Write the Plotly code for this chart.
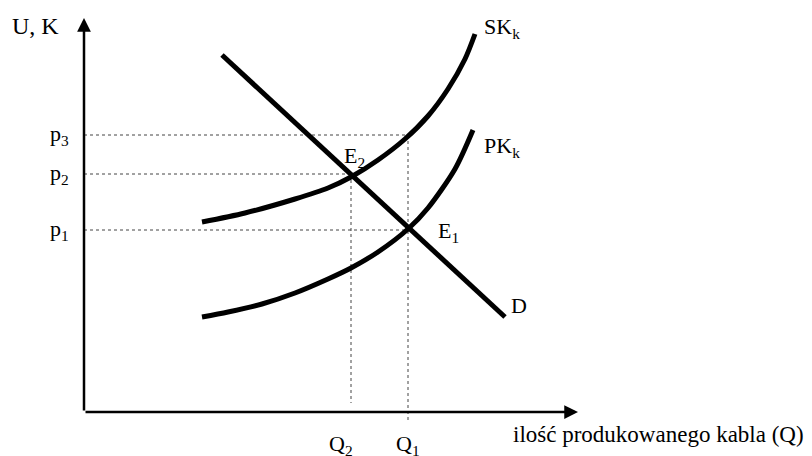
import plotly.graph_objects as go

# equilibrium values (chart units)
q_labels = ["Q<sub>2</sub>", "Q<sub>1</sub>"]
q_values = [26.7, 32.4]
p_labels = ["p<sub>1</sub>", "p<sub>2</sub>", "p<sub>3</sub>"]
p_values = [18.2, 23.8, 27.7]

# demand D
d_x = [13.8, 42.1]
d_y = [35.7, 9.5]

# private cost PK_k
pk_x = [11.8, 14.4, 17.8, 21.1, 24.4, 26.7, 29.4, 32.4, 34.4, 37.1, 38.9]
pk_y = [9.5, 10.0, 10.8, 11.9, 13.3, 14.4, 16.0, 18.3, 20.4, 24.3, 28.2]

# social cost SK_k
sk_x = [11.8, 16.1, 21.1, 24.4, 26.7, 29.4, 32.1, 34.4, 36.4, 38.1, 39.1]
sk_y = [19.0, 19.9, 21.3, 22.4, 23.5, 25.2, 27.3, 29.6, 32.3, 35.3, 37.8]

FONT = "Liberation Serif, Times New Roman, serif"

fig = go.Figure()

curve = dict(color="black", width=5)
fig.add_trace(go.Scatter(x=d_x, y=d_y, mode="lines", line=curve))
fig.add_trace(go.Scatter(x=pk_x, y=pk_y, mode="lines", line=dict(curve, shape="spline", smoothing=0.8)))
fig.add_trace(go.Scatter(x=sk_x, y=sk_y, mode="lines", line=dict(curve, shape="spline", smoothing=0.8)))

# dotted guide lines
q2, q1 = q_values
p1, p2, p3 = p_values
guide = dict(color="#444", width=1, dash="dot")
for p, q in [(p1, q1), (p2, q2), (p3, q1)]:
    fig.add_shape(type="line", x0=0, x1=q, y0=p, y1=p, line=guide, layer="below")
fig.add_shape(type="line", x0=q2, x1=q2, y0=p2, y1=0.9, line=guide, layer="below")
fig.add_shape(type="line", x0=q1, x1=q1, y0=p3, y1=-0.9, line=guide, layer="below")

# axes with arrows
for tip, tail in [((0, 39.4), (0, 0)), ((49.4, 0), (0, 0))]:
    fig.add_annotation(x=tip[0], y=tip[1], ax=tail[0], ay=tail[1],
                       xref="x", yref="y", axref="x", ayref="y", text="",
                       showarrow=True, arrowhead=2, arrowsize=1.1, arrowwidth=2.5,
                       arrowcolor="black")

def label(x, y, text, xanchor="center", size=22):
    fig.add_annotation(x=x, y=y, text=text, showarrow=False, xref="x", yref="y",
                       xanchor=xanchor, yanchor="middle",
                       font=dict(family=FONT, size=size, color="black"))

label(-4.9, 38.6, "U, K", size=24)
for t, p in zip(p_labels, p_values):
    label(-1.3, p, t, xanchor="right")
label(27.0, 25.5, "E<sub>2</sub>")
label(36.4, 18.0, "E<sub>1</sub>")
label(39.8, 38.4, "SK<sub>k</sub>", xanchor="left")
label(39.8, 26.5, "PK<sub>k</sub>", xanchor="left")
label(42.5, 10.7, "D", xanchor="left")
label(25.7, -3.3, q_labels[0])
label(32.4, -3.3, q_labels[1])
label(42.7, -2.2, "ilość produkowanego kabla (Q)", xanchor="left", size=23)

# the page body has an 8px margin, so the figure is 8px smaller than the window
fig.update_layout(
    width=804, height=448,
    margin=dict(l=0, r=0, t=0, b=0),
    paper_bgcolor="white", plot_bgcolor="white",
    showlegend=False,
    xaxis=dict(range=[-7.6, 72.8], visible=False, fixedrange=True),
    yaxis=dict(range=[-4.4, 40.4], visible=False, fixedrange=True),
)

fig.write_html("out.html")
